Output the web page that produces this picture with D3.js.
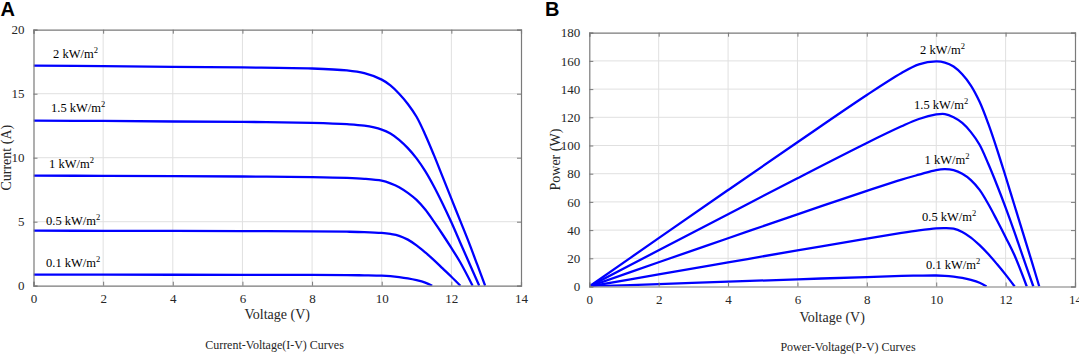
<!DOCTYPE html>
<html>
<head>
<meta charset="utf-8">
<script src="https://cdn.jsdelivr.net/npm/d3@7"></script>
<style>
  body { margin: 0; background: #fff; }
  svg { display: block; }
</style>
</head>
<body>
<svg id="chart" width="1079" height="354" font-family="Liberation Serif, Times New Roman, serif"></svg>
<script>
// ---- data ----
var irradianceLabels = ["2", "1.5", "1", "0.5", "0.1"];

// voltage samples (V) per irradiance
var v2kW  = [0, 2, 4, 6, 8, 9, 9.5, 10, 10.25, 10.5, 10.75, 11, 11.25, 11.5, 11.75, 12, 12.25, 12.5, 12.75, 12.97];
var v15kW = [0, 2, 4, 6, 8, 9, 9.5, 10, 10.25, 10.5, 10.75, 11, 11.25, 11.5, 11.75, 12, 12.25, 12.5, 12.8];
var v1kW  = [0, 2, 4, 6, 8, 9, 9.5, 10, 10.25, 10.5, 10.75, 11, 11.25, 11.5, 11.75, 12, 12.25, 12.61];
var v05kW = [0, 2, 4, 6, 8, 9, 9.5, 10, 10.25, 10.5, 10.75, 11, 11.25, 11.5, 11.75, 12, 12.26];
var v01kW = [0, 2, 4, 6, 8, 9, 9.5, 10, 10.25, 10.5, 10.75, 11, 11.25, 11.45];

// current (A), panel A
var i2kW  = [17.2, 17.15, 17.1, 17.05, 16.97, 16.82, 16.6, 16.1, 15.65, 15.0, 14.2, 13.2, 11.8, 10.2, 8.5, 6.8, 5.1, 3.4, 1.6, 0];
var i15kW = [12.9, 12.87, 12.83, 12.8, 12.72, 12.62, 12.5, 12.2, 11.9, 11.4, 10.75, 9.95, 8.95, 7.75, 6.4, 4.95, 3.4, 1.85, 0];
var i1kW  = [8.6, 8.58, 8.56, 8.53, 8.48, 8.42, 8.35, 8.2, 8.0, 7.7, 7.25, 6.7, 5.95, 5.0, 4.0, 2.95, 1.85, 0];
var i05kW = [4.3, 4.29, 4.28, 4.27, 4.25, 4.22, 4.19, 4.12, 4.04, 3.9, 3.6, 3.15, 2.6, 2.0, 1.35, 0.7, 0];
var i01kW = [0.86, 0.86, 0.855, 0.85, 0.84, 0.83, 0.81, 0.78, 0.74, 0.67, 0.57, 0.43, 0.24, 0];

// power (W), panel B
var p2kW  = [0, 34.3, 68.4, 102.3, 135.8, 151.4, 157.5, 159.6, 158.8, 156, 150.5, 142.5, 131, 115.5, 97.5, 78, 58, 38, 18, 0];
var p15kW = [0, 25.7, 51.3, 76.8, 101.8, 113.6, 118.8, 122, 122.3, 120, 116, 109.5, 100.5, 87, 72, 56, 39, 21, 0];
var p1kW  = [0, 17.2, 34.2, 51.2, 67.8, 75.8, 79.3, 82.6, 83.2, 82.5, 80, 75.5, 68.5, 58.5, 47, 35, 22.5, 0];
var p05kW = [0, 8.6, 17.1, 25.6, 34, 38, 39.8, 41.2, 41.4, 41, 38.7, 34.7, 29.3, 23, 15.9, 8.4, 0];
var p01kW = [0, 1.7, 3.4, 5.1, 6.7, 7.5, 7.7, 7.8, 7.6, 7.0, 6.1, 4.7, 2.7, 0];

var voltageTicks = [0, 2, 4, 6, 8, 10, 12, 14];
var currentTicks = [0, 5, 10, 15, 20];
var powerTicks = [0, 20, 40, 60, 80, 100, 120, 140, 160, 180];

// ---- layout ----
var svg = d3.select("#chart");
var blue = "#0000ff";

function zipCurve(v, y) {
    return v.map(function (d, k) { return [d, y[k]]; });
}

function drawPanel(cfg) {
    var x = d3.scaleLinear().domain([0, 14]).range([cfg.left, cfg.right]);
    var y = d3.scaleLinear().domain([0, cfg.ymax]).range([cfg.bottom, cfg.top]);
    var g = svg.append("g").attr("id", cfg.id);

    // grid
    g.append("g").selectAll("line").data(voltageTicks.slice(1, -1)).enter()
        .append("line")
        .attr("x1", function (d) { return x(d); }).attr("x2", function (d) { return x(d); })
        .attr("y1", cfg.top).attr("y2", cfg.bottom)
        .attr("stroke", "#e0e0e0").attr("stroke-width", 1);
    g.append("g").selectAll("line").data(cfg.yticks.slice(1, -1)).enter()
        .append("line")
        .attr("y1", function (d) { return y(d); }).attr("y2", function (d) { return y(d); })
        .attr("x1", cfg.left).attr("x2", cfg.right)
        .attr("stroke", "#e0e0e0").attr("stroke-width", 1);

    // curves
    var clipId = cfg.id + "_clip";
    g.append("clipPath").attr("id", clipId).append("rect")
        .attr("x", cfg.left).attr("y", cfg.top - 2)
        .attr("width", cfg.right - cfg.left).attr("height", cfg.bottom - cfg.top + 2);
    var line = d3.line()
        .x(function (d) { return x(d[0]); })
        .y(function (d) { return y(d[1]); })
        .curve(d3.curveCatmullRom.alpha(0.5));
    g.append("g").attr("clip-path", "url(#" + clipId + ")")
        .selectAll("path").data(cfg.series).enter()
        .append("path")
        .attr("d", function (d) { return line(d); })
        .attr("fill", "none")
        .attr("stroke", blue)
        .attr("stroke-width", 2.3)
        .attr("stroke-linejoin", "round");

    // axes, ticks inward on all four sides
    var tickColor = "#7a7a7a";
    var xb = g.append("g").attr("transform", "translate(0," + cfg.bottom + ")")
        .call(d3.axisBottom(x).tickValues(voltageTicks).tickSize(-4).tickPadding(8).tickFormat(d3.format("d")));
    var xt = g.append("g").attr("transform", "translate(0," + cfg.top + ")")
        .call(d3.axisTop(x).tickValues(voltageTicks).tickSize(-4).tickFormat(""));
    var yl = g.append("g").attr("transform", "translate(" + cfg.left + ",0)")
        .call(d3.axisLeft(y).tickValues(cfg.yticks).tickSize(-4).tickPadding(9).tickFormat(d3.format("d")));
    var yr = g.append("g").attr("transform", "translate(" + cfg.right + ",0)")
        .call(d3.axisRight(y).tickValues(cfg.yticks).tickSize(-4).tickFormat(""));
    [xb, xt, yl, yr].forEach(function (a) {
        a.select(".domain").attr("stroke", tickColor).attr("stroke-width", 1.2);
        a.selectAll(".tick line").attr("stroke", tickColor);
        a.selectAll("text")
            .attr("font-family", "Liberation Serif, Times New Roman, serif")
            .attr("font-size", 13)
            .attr("fill", "#262626");
    });

    // curve labels
    g.append("g").selectAll("text").data(cfg.labels).enter()
        .append("text")
        .attr("x", function (d) { return d[1]; })
        .attr("y", function (d) { return d[2]; })
        .attr("font-size", 12.5)
        .attr("fill", "#000")
        .each(function (d) {
            var t = d3.select(this);
            t.append("tspan").text(d[0] + " kW/m");
            t.append("tspan").attr("dy", -5).attr("font-size", 8.5).text("2");
        });

    // axis titles
    g.append("text")
        .attr("x", (cfg.left + cfg.right) / 2).attr("y", cfg.xlabelY)
        .attr("text-anchor", "middle").attr("font-size", 14).attr("fill", "#262626")
        .text("Voltage (V)");
    g.append("text")
        .attr("transform", "translate(" + cfg.ylabelX + "," + (cfg.top + cfg.bottom) / 2 + ") rotate(-90)")
        .attr("text-anchor", "middle").attr("font-size", 14).attr("fill", "#262626")
        .text(cfg.ylabel);
    g.append("text")
        .attr("x", cfg.captionX).attr("y", cfg.captionY)
        .attr("text-anchor", "middle").attr("font-size", 12).attr("fill", "#262626")
        .text(cfg.caption);
    g.append("text")
        .attr("x", cfg.letterX).attr("y", 16)
        .attr("font-family", "Liberation Sans, Arial, sans-serif")
        .attr("font-weight", "bold").attr("font-size", 20).attr("fill", "#000")
        .text(cfg.letter);
}

drawPanel({
    id: "panelA", letter: "A", letterX: 0.5,
    left: 33.5, right: 521, top: 29.7, bottom: 285.7, ymax: 20,
    yticks: currentTicks, ylabel: "Current (A)", ylabelX: 10.5,
    xlabelY: 318.5, caption: "Current-Voltage(I-V) Curves", captionX: 274.5, captionY: 348.5,
    series: [zipCurve(v2kW, i2kW), zipCurve(v15kW, i15kW), zipCurve(v1kW, i1kW),
             zipCurve(v05kW, i05kW), zipCurve(v01kW, i01kW)],
    labels: [[irradianceLabels[0], 53, 58], [irradianceLabels[1], 51, 112], [irradianceLabels[2], 49, 168],
             [irradianceLabels[3], 46, 225], [irradianceLabels[4], 46, 267]]
});

drawPanel({
    id: "panelB", letter: "B", letterX: 545,
    left: 589.3, right: 1075, top: 32.7, bottom: 286.5, ymax: 180,
    yticks: powerTicks, ylabel: "Power (W)", ylabelX: 560,
    xlabelY: 321.5, caption: "Power-Voltage(P-V) Curves", captionX: 848, captionY: 351,
    series: [zipCurve(v2kW, p2kW), zipCurve(v15kW, p15kW), zipCurve(v1kW, p1kW),
             zipCurve(v05kW, p05kW), zipCurve(v01kW, p01kW)],
    labels: [[irradianceLabels[0], 920, 54], [irradianceLabels[1], 914, 109], [irradianceLabels[2], 924.5, 164],
             [irradianceLabels[3], 922, 221], [irradianceLabels[4], 926, 269]]
});
</script>
</body>
</html>
